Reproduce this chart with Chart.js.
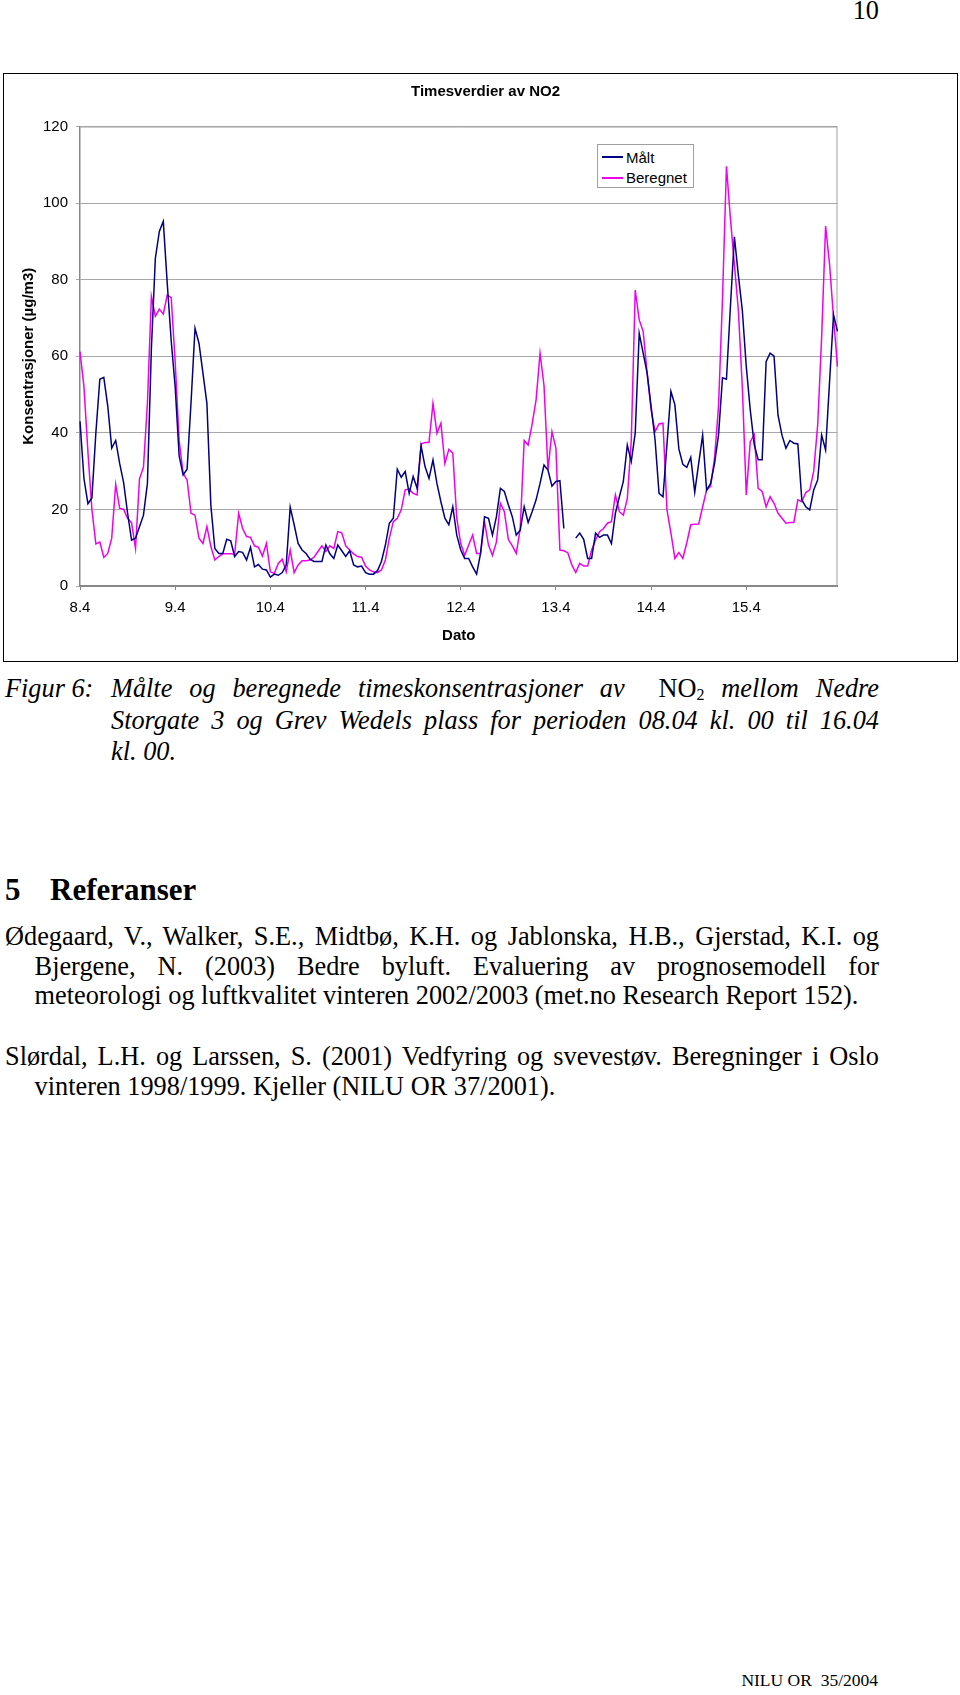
<!DOCTYPE html>
<html>
<head>
<meta charset="utf-8">
<script src="https://cdn.jsdelivr.net/npm/chart.js@4.4.0/dist/chart.umd.min.js"></script>
<style>
html,body{margin:0;padding:0;background:#fff;}
body{width:960px;height:1695px;position:relative;overflow:hidden;font-family:"Liberation Serif","Times New Roman",serif;color:#000;}
.t{position:absolute;white-space:nowrap;font-size:26.3px;line-height:1;}
.j{text-align:justify;text-align-last:justify;white-space:normal;}
.i{font-style:italic;}
.up{font-style:normal;}
#frame{position:absolute;left:3px;top:73px;width:953px;height:587px;border:1px solid #000;}
#chart{position:absolute;left:0;top:0;}
#legend{position:absolute;left:597px;top:144px;width:95px;height:42px;border:1px solid #a0a0a0;background:#fff;font-family:"Liberation Sans",Arial,sans-serif;font-size:15px;}
.lg-line{position:absolute;left:4px;width:21px;height:2px;}
.lg-text{position:absolute;left:28px;line-height:1;white-space:nowrap;}
</style>
</head>
<body>
<div class="t" style="right:81px;top:-2px;">10</div>

<div id="frame"><canvas id="chart" width="953" height="587"></canvas></div>
<div id="legend"></div>

<div class="t i" style="left:5px;top:676px;">Figur 6:</div>
<div class="t i j" style="left:111px;top:676px;width:768px;">Målte og beregnede timeskonsentrasjoner av &nbsp;<span class="up">NO<sub style="font-size:16px;vertical-align:-3px;line-height:0;">2</sub></span> mellom Nedre</div>
<div class="t i j" style="left:111px;top:707.5px;width:768px;">Storgate 3 og Grev Wedels plass for perioden 08.04 kl. 00 til 16.04</div>
<div class="t i" style="left:111px;top:739px;">kl. 00.</div>

<div class="t" style="left:5px;top:874px;font-size:31px;font-weight:bold;">5</div>
<div class="t" style="left:50px;top:874px;font-size:31px;font-weight:bold;">Referanser</div>

<div class="t j" style="left:5px;top:924.3px;width:874px;">Ødegaard, V., Walker, S.E., Midtbø, K.H. og Jablonska, H.B., Gjerstad, K.I. og</div>
<div class="t j" style="left:34.6px;top:953.5px;width:844.4px;">Bjergene, N. (2003) Bedre byluft. Evaluering av prognosemodell for</div>
<div class="t" style="left:34.6px;top:982.7px;">meteorologi og luftkvalitet vinteren 2002/2003 (met.no Research Report 152).</div>
<div class="t j" style="left:5px;top:1044.3px;width:874px;">Slørdal, L.H. og Larssen, S. (2001) Vedfyring og svevestøv. Beregninger i Oslo</div>
<div class="t" style="left:34.6px;top:1073.5px;">vinteren 1998/1999. Kjeller (NILU OR 37/2001).</div>

<div class="t" style="right:82px;top:1672.3px;font-size:17.5px;white-space:pre;">NILU OR  35/2004</div>

<script>
// ---- data ----
const days = ['8.4', '9.4', '10.4', '11.4', '12.4', '13.4', '14.4', '15.4'];
const hours = ['00','01','02','03','04','05','06','07','08','09','10','11','12','13','14','15','16','17','18','19','20','21','22','23'];
const yTickValues = [0, 20, 40, 60, 80, 100, 120];

const maalt = [
  43, 28, 21.5, 23, 40, 54, 54.5, 47, 36, 38, 32, 27, 19, 12, 12.5, 15.5, 18.5, 26.8, 62, 85.6, 92.6, 95.2, 79, 64,
  52, 34, 29, 30.5, 48, 67.3, 63.4, 55.6, 47.7, 21, 9.8, 8.5, 8.5, 12.2, 11.8, 7.7, 9, 8.8, 6.8, 10.1, 5, 5.6, 4.4, 4.2,
  2.3, 3.1, 2.8, 3.5, 5.5, 20.6, 16, 11.1, 9.4, 8.5, 7, 6.4, 6.4, 6.4, 10.7, 8.4, 7.2, 10.7, 9.2, 7.7, 9.2, 5.5, 5, 5.2,
  3.5, 3.1, 3.1, 4, 6.4, 10.7, 16.4, 17.7, 30.5, 28.4, 29.9, 24.2, 28.6, 25.5, 36.6, 31.2, 28.1, 32.9, 26.8, 22, 17.7, 16, 20.7, 13.3,
  9.4, 7.2, 7.2, 5, 3.1, 8.5, 18.1, 17.7, 13.3, 18.1, 25.5, 24.7, 21.2, 18.1, 13.3, 14.6, 20.7, 16.6, 19.4, 22.5, 26.8, 31.6, 30.3, 26.1,
  27.3, 27.5, 15, null, null, 12.5, 13.8, 12.2, 7.2, 7.2, 13.8, 12.7, 13.3, 13.3, 11.1, 19, 23.3, 27.3, 36.8, 32.5, 40, 66, 60.8, 55.6,
  46.9, 38.2, 24.2, 23.3, 37, 50.8, 47.3, 35.8, 31.8, 31, 33.6, 24.5, 32, 39.4, 25, 26.8, 32, 39.4, 54.4, 54, 73, 91.2, 81.2, 72,
  57.3, 46, 37, 33, 33, 58.6, 60.8, 60, 44.6, 39.4, 36, 38, 37.3, 37.1, 22.5, 20.7, 19.9, 25.1, 27.7, 39.4, 35.5, 53.4, 70.8, 66.5
];

const beregnet = [
  61.2, 52, 35, 20, 11, 11.5, 7.5, 8.5, 12.5, 26.5, 20.3, 20, 17.7, 16.5, 9.8, 28, 31, 47.7, 75.6, 70.4, 72.3, 71, 76, 75.3,
  58.5, 38, 29.4, 27.7, 19, 18.5, 12.5, 11.1, 15.5, 10.3, 6.8, 7.7, 8.4, 8.4, 8.4, 8.3, 19, 15, 12.9, 12.7, 10.5, 10.1, 7.8, 11.1,
  3.7, 3.3, 5.9, 7, 3.7, 9.4, 3.5, 5.5, 6.6, 6.6, 6.8, 7.5, 9, 10.5, 9, 10.5, 9.8, 14.2, 13.9, 10.5, 9.4, 8.4, 7.7, 7.5,
  5.2, 4.2, 3.7, 3.5, 4.2, 6.8, 12.5, 16.8, 17.7, 19.9, 25.1, 25.3, 24.2, 23.8, 37.1, 37.5, 37.5, 47.7, 39.9, 42.5, 32, 35.7, 34.7, 17.7,
  11.1, 8, 10.7, 13.3, 8.5, 8.5, 16.8, 10.7, 8, 11.5, 21.6, 19.4, 12.2, 10.5, 8.5, 15, 38, 36.8, 42.3, 48.6, 60.8, 52.3, 30.3, 40.3,
  36, 9.4, 9.2, 8.7, 5.5, 3.5, 5.9, 5.2, 5.2, 9.4, 12, 14.2, 15, 16.4, 16.8, 23.8, 19.4, 18.5, 22.8, 38, 77.3, 69.5, 66.5, 55.6,
  46, 40.3, 42.3, 42.5, 19.9, 13.8, 7.2, 8.7, 7.2, 11.3, 16, 16.1, 16.2, 20.7, 25.1, 26, 33.4, 46.9, 75, 109.6, 96, 84, 72, 52,
  23.8, 37.7, 39.5, 25.5, 24.7, 20.7, 23.3, 21.6, 19, 17.7, 16.4, 16.6, 16.6, 22.5, 22, 24.4, 25.1, 30, 42, 65, 94, 84, 70, 57.3
];

// ---- build categories (one per hour) ----
const categories = [];
days.forEach(d => hours.forEach(h => categories.push(d + ' kl. ' + h)));

const FONT = '"Liberation Sans", Arial, sans-serif';

const plotBorder = {
  id: 'plotBorder',
  beforeDatasetsDraw(chart) {
    const {ctx, chartArea: a} = chart;
    ctx.save();
    ctx.strokeStyle = '#a0a0a0';
    ctx.lineWidth = 1;
    ctx.beginPath();
    ctx.moveTo(a.left, a.top + 0.5);
    ctx.lineTo(a.right - 0.5, a.top + 0.5);
    ctx.lineTo(a.right - 0.5, a.bottom);
    ctx.stroke();
    ctx.restore();
  }
};

const chart = new Chart(document.getElementById('chart'), {
  type: 'line',
  data: {
    labels: categories,
    datasets: [
      { label: 'Målt', data: maalt, borderColor: '#000080', backgroundColor: '#000080',
        borderWidth: 1.5, pointRadius: 0, tension: 0, spanGaps: false, yAxisID: 'y' },
      { label: 'Beregnet', data: beregnet, borderColor: '#f000f0', backgroundColor: '#f000f0',
        borderWidth: 1.5, pointRadius: 0, tension: 0, spanGaps: false, yAxisID: 'y' }
    ]
  },
  options: {
    responsive: false,
    animation: false,
    devicePixelRatio: 1,
    layout: { padding: { left: 10, right: 0, top: 0, bottom: 0 } },
    plugins: {
      legend: { display: false },
      tooltip: { enabled: false },
      title: {
        display: true,
        text: 'Timesverdier av NO2',
        color: '#000',
        font: { family: FONT, size: 15, weight: 'bold', lineHeight: 1.2 },
        padding: { top: 9, bottom: 25.5 }
      }
    },
    scales: {
      x: {
        type: 'category',
        offset: false,
        afterFit(scale) { scale.height = 75; },
        grid: { display: true, drawOnChartArea: false, drawTicks: true, tickLength: 4, color: '#888', lineWidth: 1 },
        border: { display: true, color: '#888', width: 2 },
        ticks: {
          autoSkip: false, maxRotation: 0, minRotation: 0, padding: 9,
          color: '#000', font: { family: FONT, size: 15, lineHeight: 1.2 },
          callback(value, index) { return index % hours.length === 0 ? days[index / hours.length] : null; }
        },
        title: {
          display: true, text: 'Dato', color: '#000',
          font: { family: FONT, size: 15, weight: 'bold', lineHeight: 1.2 },
          padding: { top: 0, bottom: 16.4 }
        }
      },
      y: {
        position: 'left',
        min: yTickValues[0], max: yTickValues[yTickValues.length - 1],
        afterFit(scale) { scale.width = 66; },
        afterBuildTicks(scale) { scale.ticks = yTickValues.map(v => ({ value: v })); },
        grid: { color: '#a8a8a8', lineWidth: 1, drawTicks: true, tickLength: 4 },
        border: { display: true, color: '#888', width: 1.5 },
        ticks: { padding: 8, color: '#000', font: { family: FONT, size: 15, lineHeight: 1.2 } },
        title: {
          display: true, text: 'Konsentrasjoner (µg/m3)', color: '#000',
          font: { family: FONT, size: 15, weight: 'bold', lineHeight: 1.2 },
          padding: { top: 6, bottom: 0 }
        }
      },
      yR: {
        position: 'right',
        min: yTickValues[0], max: yTickValues[yTickValues.length - 1],
        afterFit(scale) { scale.width = 119.5; },
        grid: { display: false, drawTicks: false },
        border: { display: false },
        ticks: { display: false }
      }
    }
  },
  plugins: [plotBorder]
});

// HTML legend built from datasets
const legend = document.getElementById('legend');
const rowTops = [4.7, 25.4];
chart.data.datasets.forEach((ds, k) => {
  const ln = document.createElement('div');
  ln.className = 'lg-line';
  ln.style.top = (rowTops[k] + 6.3) + 'px';
  ln.style.background = ds.borderColor;
  legend.appendChild(ln);
  const tx = document.createElement('div');
  tx.className = 'lg-text';
  tx.style.top = rowTops[k] + 'px';
  tx.textContent = ds.label;
  legend.appendChild(tx);
});
</script>
</body>
</html>
